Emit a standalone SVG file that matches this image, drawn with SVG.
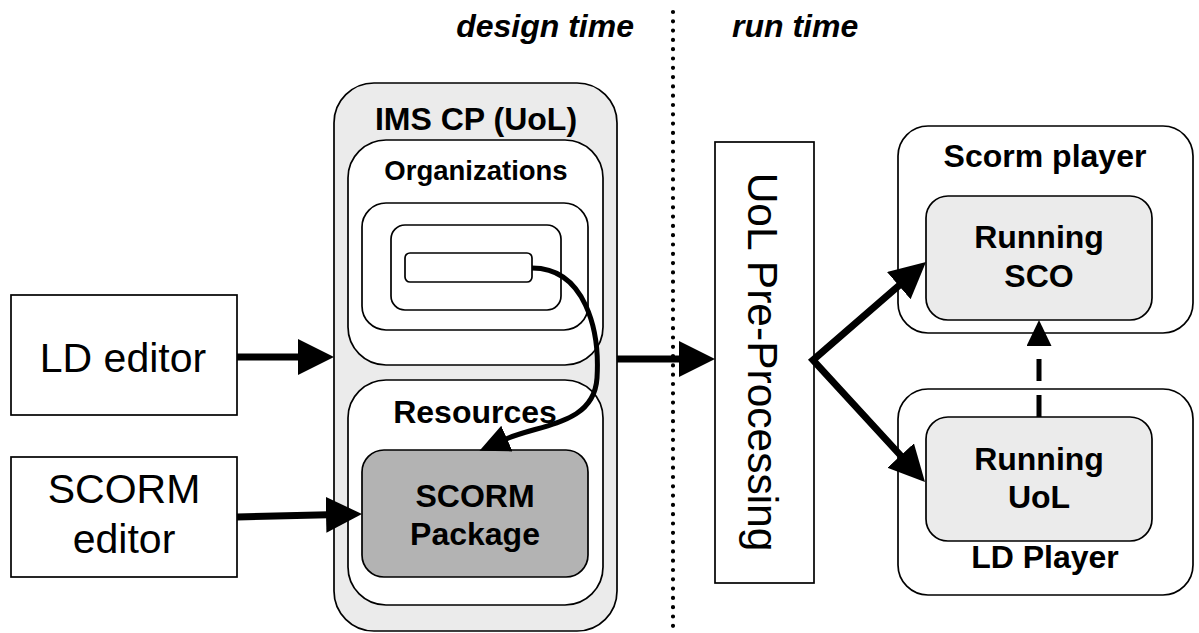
<svg xmlns="http://www.w3.org/2000/svg" width="1199" height="633" viewBox="0 0 1199 633">
<style>
  text { font-family: "Liberation Sans", Arial, sans-serif; fill: #000; }
  .b { font-weight: bold; text-anchor: middle; }
  .r { text-anchor: middle; }
  .box { stroke: #000; stroke-width: 1.7; }
  .w { fill: #fff; }
  .g { fill: #ebebeb; }
  .dg { fill: #b3b3b3; }
  .con { fill: none; stroke: #000; }
</style>
<defs>
  <marker id="arr" markerUnits="userSpaceOnUse" markerWidth="40" markerHeight="40" refX="2" refY="18" orient="auto-start-reverse">
    <path d="M0,0 L36,18 L0,36 z" fill="#000"/>
  </marker>
  <marker id="arrc" markerUnits="userSpaceOnUse" markerWidth="34" markerHeight="34" refX="1" refY="14" orient="auto">
    <path d="M0,0 L30,14 L0,28 z" fill="#000"/>
  </marker>
  <marker id="arrs" markerUnits="userSpaceOnUse" markerWidth="30" markerHeight="30" refX="1" refY="12.5" orient="auto">
    <path d="M0,0 L26,12.5 L0,25 z" fill="#000"/>
  </marker>
</defs>
<rect width="1199" height="633" fill="#fff"/>

<g id="divider">
  <line x1="673" y1="12" x2="673" y2="633" stroke="#000" stroke-width="4.2" stroke-linecap="round" stroke-dasharray="0 9.3"/>
  <text x="634" y="37" font-size="32" font-weight="bold" font-style="italic" text-anchor="end">design time</text>
  <text x="732" y="37" font-size="32" font-weight="bold" font-style="italic">run time</text>
</g>

<g id="ld-editor">
  <rect class="box w" x="11" y="295" width="226" height="120"/>
  <text class="r" x="123" y="372" font-size="41">LD editor</text>
</g>
<g id="scorm-editor">
  <rect class="box w" x="11" y="457" width="226" height="120"/>
  <text class="r" x="124" y="503" font-size="41">SCORM</text>
  <text class="r" x="124" y="553" font-size="41">editor</text>
</g>

<g id="ims-cp">
  <rect class="box g" x="334" y="83" width="283" height="548" rx="40"/>
  <text class="b" x="476" y="130" font-size="32">IMS CP (UoL)</text>
</g>
<g id="organizations">
  <rect class="box w" x="348" y="140" width="255" height="225" rx="38"/>
  <text class="b" x="476" y="180" font-size="27.5">Organizations</text>
</g>
<g id="org-item-outer">
  <rect class="box w" x="362" y="203" width="226" height="127" rx="24"/>
</g>
<g id="org-item-mid">
  <rect class="box w" x="391" y="225" width="170" height="85" rx="14"/>
</g>
<g id="org-item-inner">
  <rect class="box w" x="405" y="253" width="127" height="29" rx="5"/>
</g>
<g id="resources">
  <rect class="box w" x="348" y="380" width="255" height="225" rx="38"/>
  <text class="b" x="475" y="423" font-size="32">Resources</text>
</g>
<g id="scorm-package">
  <rect class="box dg" x="362" y="450" width="226" height="127" rx="22"/>
  <text class="b" x="475" y="507" font-size="32">SCORM</text>
  <text class="b" x="475" y="545" font-size="32">Package</text>
</g>

<g id="preprocessing">
  <rect class="box w" x="715" y="142" width="99" height="441"/>
  <text class="r" transform="translate(748,362) rotate(90)" font-size="42.5">UoL Pre-Processing</text>
</g>

<g id="scorm-player">
  <rect class="box w" x="898" y="126" width="295" height="207" rx="30"/>
  <text class="b" x="1045" y="167" font-size="32">Scorm player</text>
</g>
<g id="running-sco">
  <rect class="box g" x="926" y="196" width="226" height="124" rx="22"/>
  <text class="b" x="1039" y="248" font-size="32">Running</text>
  <text class="b" x="1039" y="287" font-size="32">SCO</text>
</g>
<g id="ld-player">
  <rect class="box w" x="898" y="389" width="295" height="206" rx="30"/>
  <text class="b" x="1045" y="568" font-size="32">LD Player</text>
</g>
<g id="running-uol">
  <rect class="box g" x="926" y="417" width="226" height="124" rx="22"/>
  <text class="b" x="1039" y="470" font-size="32">Running</text>
  <text class="b" x="1039" y="508" font-size="32">UoL</text>
</g>

<g id="connectors">
  <path class="con" d="M237,357 L300,357" stroke-width="7" marker-end="url(#arr)"/>
  <path class="con" d="M237,517 L328,514.8" stroke-width="7" marker-end="url(#arr)"/>
  <path class="con" d="M617,359 L681,359" stroke-width="7" marker-end="url(#arr)"/>
  <path class="con" d="M900.3,284.3 L813,360 L902,457" stroke-width="7" stroke-linejoin="miter" marker-start="url(#arr)" marker-end="url(#arr)"/>
  <path class="con" d="M532,268 C585,268 600,330 597,378 C594,425 540,424 506,439" stroke-width="5" marker-end="url(#arrc)"/>
  <path class="con" d="M1039,417 L1039,345" stroke-width="5" stroke-dasharray="22 14" marker-end="url(#arrs)"/>
</g>
</svg>
